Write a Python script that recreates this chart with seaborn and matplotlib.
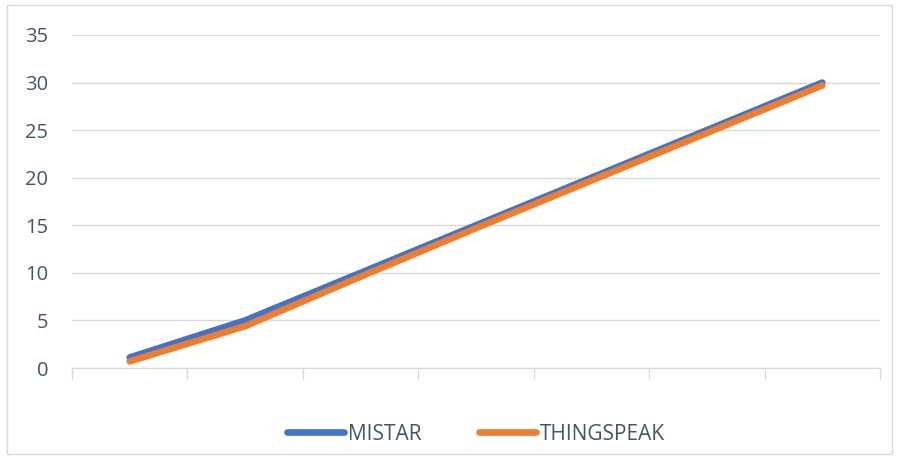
import pandas as pd
import matplotlib.pyplot as plt
import seaborn as sns
from matplotlib.patches import Rectangle

points = [1, 2, 3, 4, 5, 6, 7]
mistar = [1.1, 5.0, 10.0, 15.0, 20.0, 25.0, 30.0]
thingspeak = [0.7, 4.4, 9.6, 14.7, 19.7, 24.7, 29.7]
series_names = ["MISTAR", "THINGSPEAK"]
colors = ["#4472C4", "#ED7D31"]

df = pd.DataFrame({
    "point": points * 2,
    "value": mistar + thingspeak,
    "series": [series_names[0]] * len(points) + [series_names[1]] * len(points),
})

sns.set_style("white")
plt.rcParams["font.family"] = ["Open Sans", "DejaVu Sans"]
plt.rcParams["lines.solid_capstyle"] = "round"

text_color = "#44546A"

fig = plt.figure(figsize=(8.98, 4.59), dpi=100)
ax = fig.add_axes([72 / 898, 1 - 368 / 459, (880 - 72) / 898, (368 - 35) / 459])

sns.lineplot(data=df, x="point", y="value", hue="series", palette=colors,
             linewidth=4.8, ax=ax, legend=False)

ax.set_xlim(0.5, 7.5)
ax.set_ylim(0, 35)
ax.set_yticks(range(0, 36, 5))
ax.set_xticks([p - 0.5 for p in points] + [7.5])
ax.set_xticklabels([])
ax.set_xlabel("")
ax.set_ylabel("")
ax.grid(axis="y", color="#D9D9D9", linewidth=1)
ax.tick_params(axis="y", length=0, labelsize=14.5, labelcolor=text_color, pad=17)
ax.tick_params(axis="x", bottom=True, length=8, color="#D9D9D9", width=1, direction="out")
for s in ["left", "right", "top"]:
    ax.spines[s].set_visible(False)
ax.spines["bottom"].set_color("#D9D9D9")
ax.set_axisbelow(True)

handles = [plt.Line2D([], [], color=c, linewidth=4.8) for c in colors]
fig.legend(handles, series_names, loc="center", bbox_to_anchor=(476 / 898, 1 - 434 / 459),
           ncol=2, frameon=False, fontsize=15, handlelength=2.74, handletextpad=0.2,
           columnspacing=2.74, labelcolor=text_color)

fig.patches.append(Rectangle((7 / 898, 5 / 459), 885 / 898, 449 / 459, transform=fig.transFigure,
                             fill=False, edgecolor="#D9D9D9", linewidth=1))

fig.savefig("out.png", dpi=100)
